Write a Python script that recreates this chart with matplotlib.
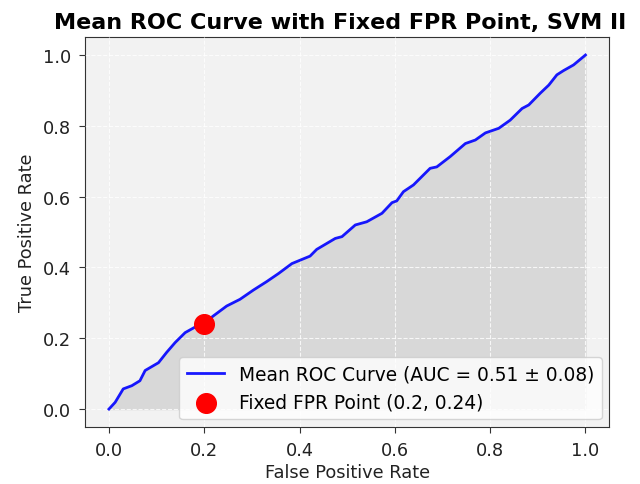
import matplotlib
matplotlib.use("Agg")
import matplotlib.pyplot as plt
import numpy as np

# Mean ROC curve (false positive rate vs true positive rate)
fpr = [0.0, 0.013, 0.030, 0.048, 0.065, 0.076, 0.090, 0.104, 0.121, 0.139,
       0.160, 0.184, 0.200, 0.219, 0.247, 0.275, 0.303, 0.331, 0.356, 0.384,
       0.422, 0.436, 0.475, 0.489, 0.517, 0.541, 0.573, 0.594, 0.604, 0.618,
       0.639, 0.674, 0.688, 0.716, 0.748, 0.769, 0.790, 0.818, 0.842, 0.867,
       0.881, 0.905, 0.923, 0.940, 0.954, 0.975, 1.0]
tpr = [0.0, 0.019, 0.057, 0.066, 0.080, 0.109, 0.120, 0.131, 0.160, 0.188,
       0.216, 0.234, 0.243, 0.263, 0.291, 0.310, 0.336, 0.360, 0.383, 0.411,
       0.432, 0.451, 0.482, 0.487, 0.520, 0.529, 0.553, 0.583, 0.588, 0.614,
       0.633, 0.680, 0.684, 0.713, 0.750, 0.760, 0.780, 0.793, 0.816, 0.849,
       0.859, 0.892, 0.915, 0.944, 0.956, 0.972, 1.0]

auc_mean = 0.51
auc_std = 0.08
fixed_fpr = 0.2
fixed_tpr = 0.24

fig = plt.figure(figsize=(6.4, 4.85), dpi=100)
ax = fig.add_axes([0.133, 0.118, 0.819, 0.803])
ax.set_facecolor("#f2f2f2")

ax.fill_between(fpr, 0, tpr, color="#d8d8d8", zorder=1)
ax.plot(fpr, tpr, color="blue", lw=2, alpha=0.9, zorder=3,
        label=f"Mean ROC Curve (AUC = {auc_mean:.2f} \u00b1 {auc_std:.2f})")
ax.scatter([fixed_fpr], [fixed_tpr], color="red", s=200, zorder=4,
           label=f"Fixed FPR Point ({fixed_fpr}, {fixed_tpr})")

ax.set_xlim(-0.05, 1.05)
ax.set_ylim(-0.05, 1.05)
ax.set_xticks(np.arange(0, 1.01, 0.2))
ax.set_yticks(np.arange(0, 1.01, 0.2))
ax.tick_params(labelsize=12.8, length=4.5, pad=5.5,
               color="#333333", labelcolor="#222222")
ax.grid(True, color="white", linestyle="--", linewidth=0.8, alpha=0.8, zorder=2)
ax.set_axisbelow(False)
for s in ax.spines.values():
    s.set_color("#333333")

ax.set_xlabel("False Positive Rate", fontsize=12.8, color="#222222", labelpad=3)
ax.set_ylabel("True Positive Rate", fontsize=12.8, color="#222222", labelpad=5)
ax.set_title("Mean ROC Curve with Fixed FPR Point, SVM II",
             fontsize=16, fontweight="bold", pad=7, x=0.487)
ax.legend(loc="lower right", fontsize=13.4, borderaxespad=0.4)

fig.savefig("out.png", dpi=100)
